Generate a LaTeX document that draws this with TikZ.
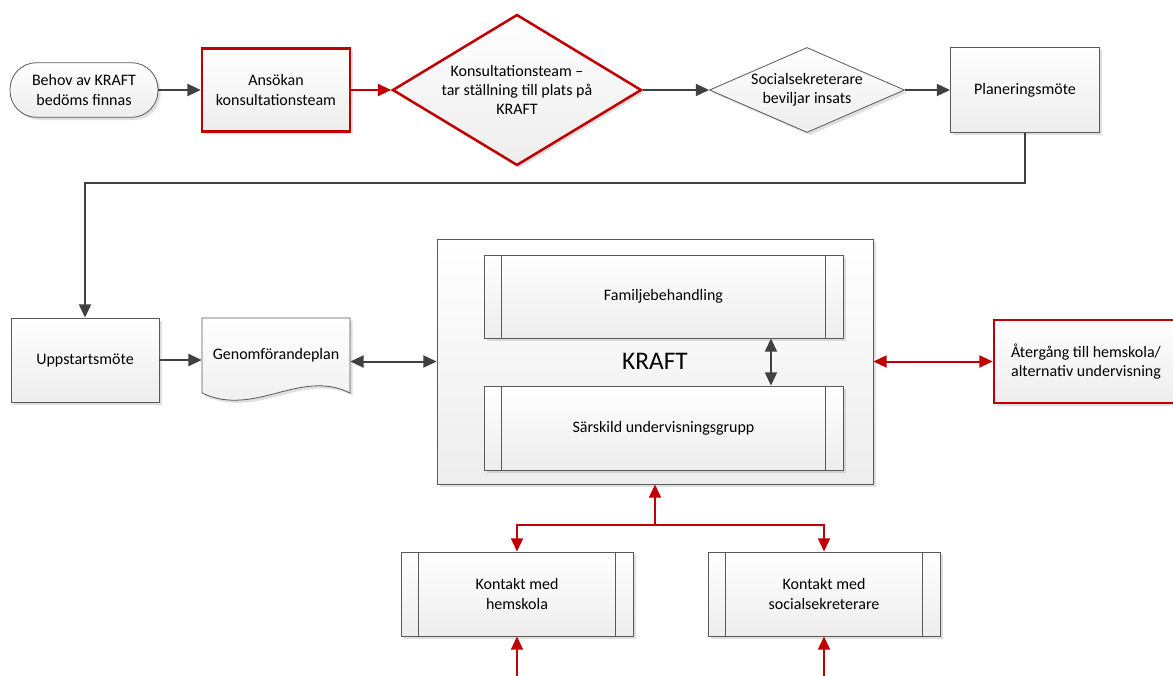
\documentclass[tikz,border=0pt]{standalone}
\usepackage{fontspec}
\setmainfont{Carlito}
\usetikzlibrary{shapes.geometric, arrows.meta, shadows}
\definecolor{kred}{HTML}{C00000}
\definecolor{kline}{HTML}{595959}
\definecolor{karrow}{HTML}{404040}
\begin{document}
\begin{tikzpicture}[x=0.75pt, y=-0.75pt, >={Triangle[length=10pt, width=9pt]},
    every node/.style={font=\fontsize{12pt}{14.5pt}\selectfont, align=center, inner sep=2pt},
    boxfill/.style={top color=white, bottom color=gray!14, drop shadow={shadow xshift=2pt, shadow yshift=-2pt, opacity=0.25, fill=gray}},
    box/.style={boxfill, draw=kline, line width=0.6pt, minimum width=111pt, minimum height=63pt},
    redbox/.style={box, draw=kred, line width=1.9pt},
    term/.style={box, rounded corners=20pt, minimum height=41pt},
    decide/.style={boxfill, diamond, draw=kline, line width=0.6pt, inner sep=0pt},
    sub/.style={box, path picture={
        \draw[kline, line width=0.6pt] ([xshift=13pt]path picture bounding box.north west) -- ([xshift=13pt]path picture bounding box.south west);
        \draw[kline, line width=0.6pt] ([xshift=-13pt]path picture bounding box.north east) -- ([xshift=-13pt]path picture bounding box.south east);}},
    flow/.style={color=karrow, line width=1.5pt, ->},
    redflow/.style={flow, color=kred}]
    \fill[white] (0,0) rectangle (1173,675);
    \useasboundingbox (0,0) rectangle (1173,675);
    % top row
    \node[term] (behov) at (84,90) {Behov av KRAFT\\bedöms finnas};
    \node[redbox, minimum height=62pt] (ansok) at (276,90) {Ansökan\\konsultationsteam};
    \node[decide, draw=kred, line width=1.9pt, aspect=1.65, minimum width=186.75pt, minimum height=113.25pt] (konsult) at (517,90) {Konsultationsteam –\\tar ställning till plats på\\KRAFT};
    \node[decide, aspect=2.29, minimum width=146.25pt, minimum height=63.75pt] (bevil) at (807,90) {Socialsekreterare\\beviljar insats};
    \node[box, minimum width=111.75pt, minimum height=63.75pt] (plan) at (1025,90) {Planeringsmöte};
    % middle row
    \node[box] (upp) at (85,360) {Uppstartsmöte};
    \draw[boxfill, draw=kline, line width=0.6pt] (202,318) -- (350,318) -- (350,393) .. controls (300,368) and (255,418) .. (202,393) -- cycle;
    \node[minimum width=111pt, minimum height=56pt] (gen) at (276,355.5) {Genomförandeplan};
    \node[box, minimum width=327pt, minimum height=183.75pt, font=\fontsize{19pt}{22pt}\selectfont] (kraft) at (655,361.5) {KRAFT};
    \node[sub, minimum width=269.25pt, minimum height=62.25pt] (fam) at (663.5,296.5) {Familjebehandling};
    \node[sub, minimum width=269.25pt, minimum height=63pt] (sars) at (663.5,428) {Särskild undervisningsgrupp};
    \node[redbox, minimum width=138pt, minimum height=62.25pt] (aterg) at (1086,361.5) {Återgång till hemskola/\\alternativ undervisning};
    % bottom row
    \node[sub, minimum width=174pt] (hem) at (517,594) {Kontakt med\\hemskola};
    \node[sub, minimum width=174pt] (soc) at (824,594) {Kontakt med\\socialsekreterare};
    \coordinate (branch) at (655,525);
    \coordinate (hemin) at (517,680);
    \coordinate (socin) at (824,680);
    % connectors
    \draw[flow] (behov) -- (ansok);
    \draw[redflow] (ansok) -- (konsult);
    \draw[flow] (konsult) -- (bevil);
    \draw[flow] (bevil) -- (plan);
    \draw[flow] (plan.south) -- ++(0,50) -| (upp.north);
    \draw[flow] (upp) -- (upp -| gen.west);
    \draw[flow, <->] (kraft.west -| gen.east) -- (kraft.west);
    \draw[flow, <->] ([xshift=80.6pt]fam.south) -- ([xshift=80.6pt]sars.north);
    \draw[redflow, <->] (kraft.east) -- (aterg.west);
    \draw[redflow] (branch) -- (kraft.south);
    \draw[redflow] (branch) -| (hem.north);
    \draw[redflow] (branch) -| (soc.north);
    \draw[redflow] (hemin) -- (hem.south);
    \draw[redflow] (socin) -- (soc.south);
\end{tikzpicture}
\end{document}
